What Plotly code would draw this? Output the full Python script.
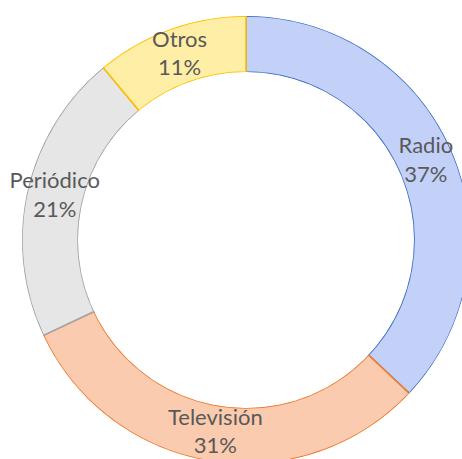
import plotly.graph_objects as go

labels = ["Radio", "Televisión", "Periódico", "Otros"]
values = [37, 31, 21, 11]
fill_colors = ["#C3D1F9", "#FBCBB0", "#E6E6E6", "#FFEEA6"]
line_colors = ["#4472C4", "#ED7D31", "#A5A5A5", "#FFC000"]

W, H = 500, 480
cx, cy, R = 246, 240, 224
HOLE = 0.75

domain = dict(x=[(cx - R) / W, (cx + R) / W], y=[1 - (cy + R) / H, 1 - (cy - R) / H])

total = sum(values)
mid_theta, widths = [], []
acc = 0
for v in values:
    mid_theta.append(360.0 * (acc + v / 2) / total)
    widths.append(360.0 * v / total)
    acc += v
label_text = [f"{l}<br>{round(100 * v / total)}%" for l, v in zip(labels, values)]

fig = go.Figure()
fig.add_trace(go.Barpolar(
    r=[1] * len(values),
    theta=mid_theta,
    width=widths,
    marker=dict(color=fill_colors, line=dict(color=line_colors, width=1.6)),
    text=labels,
    hoverinfo="text",
    showlegend=False,
))
fig.add_trace(go.Scatterpolar(
    r=[0.5] * len(values),
    theta=mid_theta,
    mode="text",
    text=label_text,
    textposition="middle center",
    textfont=dict(family="Lato", size=22, color="#595959"),
    showlegend=False,
    hoverinfo="skip",
))

fig.update_layout(
    width=W, height=H,
    margin=dict(l=0, r=0, t=0, b=0),
    paper_bgcolor="white",
    plot_bgcolor="white",
    polar=dict(
        domain=domain,
        hole=HOLE,
        bargap=0,
        bgcolor="rgba(0,0,0,0)",
        radialaxis=dict(range=[0, 1], visible=False, showgrid=False, showline=False),
        angularaxis=dict(rotation=90, direction="clockwise", visible=False,
                         showgrid=False, showline=False),
    ),
)

fig.write_html(
    "out.html",
    config={"displayModeBar": False},
    post_script="document.body.style.margin='0';document.body.style.overflow='hidden';document.documentElement.style.overflow='hidden';",
)
